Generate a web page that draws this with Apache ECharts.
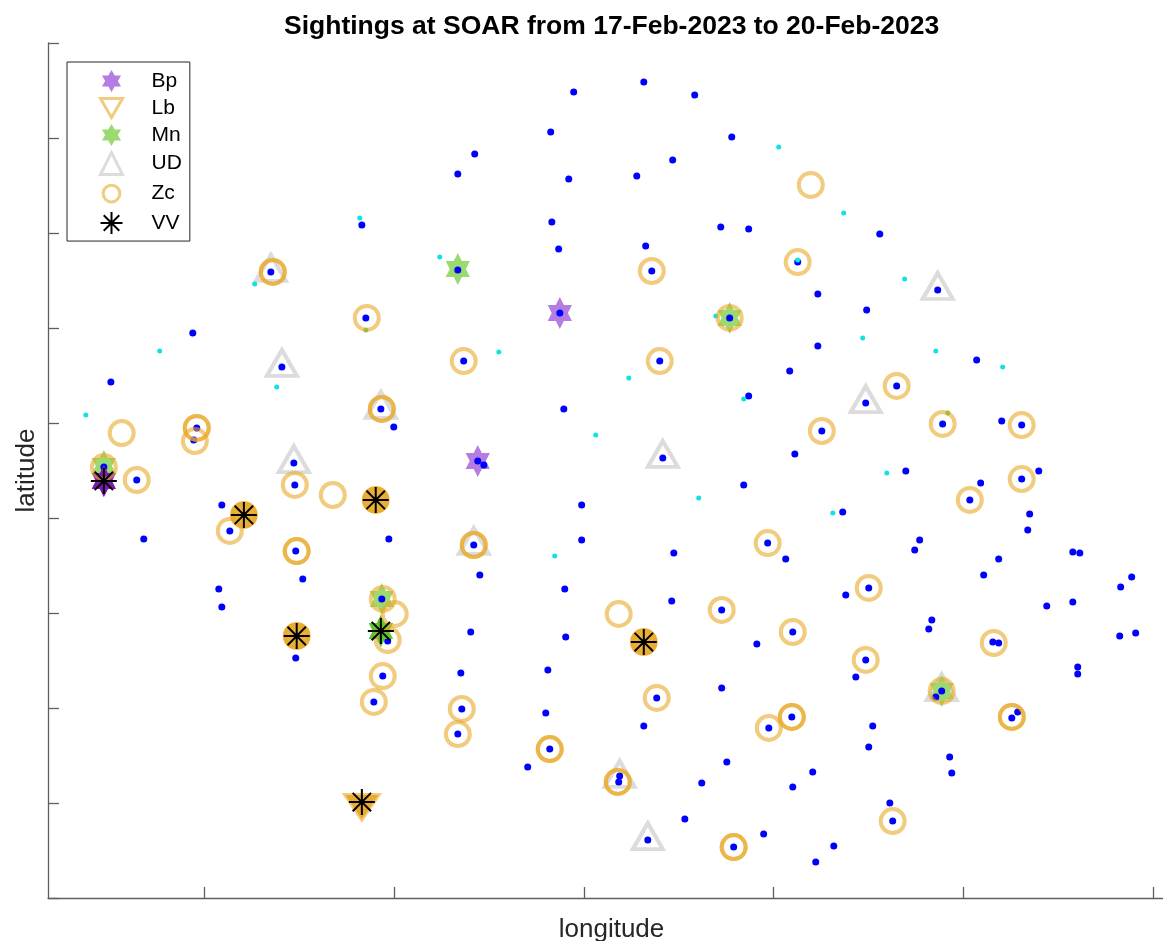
<!DOCTYPE html>
<html>
<head>
<meta charset="utf-8">
<title>Sightings at SOAR</title>
<script src="https://cdn.jsdelivr.net/npm/echarts@6/dist/echarts.min.js"></script>
<style>
html, body { margin: 0; padding: 0; background: #fff; }
#chart { width: 1163px; height: 941px; }
</style>
</head>
<body>
<div id="chart"></div>
<script>
// Positions are [easting km, northing km] on the range grid.

// Hydrophone / effort positions
const gridBlue = [
  [33.16,42.95],[29.47,42.42],[35.84,42.26],[28.26,40.32],[37.79,40.05],[24.26,39.16],[34.68,38.84],[23.37,38.11],[29.21,37.84],[32.79,38.00],
  [18.32,35.42],[28.32,35.58],[37.21,35.32],[38.68,35.21],[45.58,34.95],[28.68,34.16],[33.26,34.32],
  [13.53,32.95],[33.58,33.00],[41.26,33.47],[23.37,33.05],[42.32,31.79],[48.63,32.00],[18.53,30.53],[28.74,30.79],[37.68,30.53],[44.89,30.95],[9.42,29.74],[42.32,29.05],
  [14.11,27.95],[23.68,28.26],[34.00,28.26],[40.84,27.74],[46.47,26.95],[50.68,28.32],[5.11,27.16],[38.68,26.42],[44.84,26.05],[28.95,25.74],[19.32,25.74],[20.00,24.79],[42.53,24.58],[48.89,24.95],[52.00,25.11],[53.05,24.89],[9.63,24.74],[9.47,24.11],
  [4.74,22.68],[6.47,22.00],[14.74,22.89],[14.79,21.74],[24.42,23.00],[24.74,22.79],[34.16,23.16],[46.95,22.47],[53.95,22.47],[53.05,22.05],[38.42,21.74],[50.89,21.84],[50.32,20.95],[10.95,20.68],[11.37,19.32],[29.89,20.68],[43.63,20.32],[53.47,20.21],[53.37,19.37],
  [6.84,18.89],[19.74,18.89],[14.84,18.26],[24.21,18.58],[39.68,18.68],[29.89,18.84],[34.74,18.16],[40.63,17.84],[47.68,18.84],[47.42,18.32],[51.84,17.84],[51.05,17.00],[55.74,18.21],[56.11,18.16],[24.53,17.00],[15.21,16.79],[29.00,16.26],[45.00,16.32],[43.79,15.95],[58.84,16.89],[58.26,16.37],
  [10.79,16.26],[10.95,15.32],[19.37,15.74],[34.63,15.63],[37.26,15.16],[54.37,15.37],[55.74,15.58],[41.00,14.00],[48.32,14.63],[48.16,14.16],[51.53,13.47],[51.84,13.42],[58.21,13.79],[59.05,13.95],[24.05,14.00],[29.05,13.74],[39.11,13.37],[19.68,13.53],
  [14.84,12.63],[23.53,11.84],[28.11,12.00],[37.26,11.05],[44.84,12.53],[44.32,11.63],[56.00,12.16],[56.00,11.79],[19.42,11.68],[18.95,10.32],[33.84,10.53],[48.84,10.89],[48.53,10.58],
  [23.58,9.95],[28.00,9.74],[33.16,9.05],[39.74,8.95],[40.95,9.53],[52.53,9.47],[52.84,9.79],[45.21,9.05],[45.00,7.95],[23.37,8.63],[28.21,7.84],[49.26,7.42],[49.37,6.58],[27.05,6.89],[37.53,7.16],[42.05,6.63],[41.00,5.84],[36.21,6.05],[31.89,6.42],[31.84,6.11],
  [46.11,5.00],[46.26,4.05],[35.32,4.16],[39.47,3.37],[33.37,3.05],[37.89,2.68],[43.16,2.74],[42.21,1.89],[41.11,23.37]
];

const gridCyan = [
  [18.21,35.79],[12.68,32.32],[7.68,28.79],[13.84,26.89],[3.79,25.42],[22.42,33.74],[25.53,28.74],[32.37,27.37],[30.63,24.37],[40.26,39.53],
  [36.95,30.63],[38.42,26.26],[43.68,36.05],[41.26,33.58],[46.89,32.58],[44.68,29.47],[48.53,28.79],[52.05,27.95],[45.95,22.37],[43.11,20.26],
  [36.05,21.05],[28.47,18.00]
];

const gridGreen = [[18.53,29.89],[49.16,25.53]];

// Species detections
const bpPts = [[28.74,30.79],[24.42,23.00],[4.74,21.95]];
const lbPts = [[18.32,5.05]];
const mnPts = [[23.37,33.11],[37.68,30.53],[4.74,22.74],[19.37,15.74],[48.84,10.89],[19.32,14.05]];
const udPts = [[13.53,32.95],[14.11,27.95],[19.32,25.74],[14.74,22.89],[34.16,23.16],[48.63,32.00],[44.84,26.05],[24.21,18.58],[31.89,6.32],[33.37,3.05],[48.84,10.89]];
const zcPts = [
  [13.63,32.95],[13.63,32.95],[33.58,33.00],[41.26,33.47],[41.95,37.53],[18.58,30.53],[37.68,30.53],[23.68,28.26],[34.00,28.26],[46.47,26.95],
  [19.37,25.74],[19.37,25.74],[42.53,24.58],[48.89,24.95],[53.05,24.89],[5.68,24.47],[9.63,24.74],[9.63,24.74],[9.53,24.05],[4.74,22.68],
  [6.47,22.00],[14.79,21.74],[16.79,21.21],[53.05,22.05],[50.32,20.95],[11.37,19.32],[14.89,18.26],[14.89,18.26],[24.21,18.58],[24.21,18.58],
  [39.68,18.68],[45.00,16.32],[19.42,15.74],[20.05,14.95],[31.84,14.95],[37.26,15.16],[41.00,14.00],[51.58,13.42],[19.68,13.58],[44.84,12.53],
  [19.42,11.68],[18.95,10.32],[33.84,10.53],[48.84,10.89],[23.58,9.95],[23.37,8.63],[39.74,8.95],[40.95,9.53],[40.95,9.53],[52.53,9.53],
  [52.53,9.53],[28.21,7.84],[28.21,7.84],[31.79,6.11],[31.79,6.11],[37.89,2.68],[37.89,2.68],[46.26,4.05],
  [12.11,20.16],[19.05,20.95],[14.89,13.79],[33.16,13.47]
];
const vvPts = [[4.74,21.95],[12.11,20.16],[19.05,20.95],[14.89,13.79],[19.32,14.05],[33.16,13.47],[18.32,5.05]];
const vvSpecies = ['Bp','Zc','Zc','Zc','Mn','Zc','Lb'];

const legendNames = ['Bp','Lb','Mn','UD','Zc','VV'];
const xTickValues = [10, 20, 30, 40, 50, 60];
const yTickStep = 5;

const FONT = '"Liberation Sans", Arial, Helvetica, sans-serif';
const HEXAGRAM = 'path://M50,0L64.43,25L93.3,25L78.87,50L93.3,75L64.43,75L50,100L35.57,75L6.7,75L21.13,50L6.7,25L35.57,25Z';
const TRI_DOWN = 'path://M0,0L100,0L50,86.6Z';
const ASTERISK = 'path://M50,0L50,100M0,50L100,50M14.64,14.64L85.36,85.36M85.36,14.64L14.64,85.36';
const RING_ICON = 'path://M-8,-8M108,108M50,6A44,44,0,1,1,49.9,6Z';
const ORANGE_RING = 'rgba(232,168,40,0.6)';
const CLEAR = 'rgba(0,0,0,0)';

function dotSeries(name, data, size, color, z) {
  return {
    type: 'scatter', name, data, z, silent: true,
    symbol: 'circle', symbolSize: size,
    itemStyle: { color, opacity: 1 }
  };
}

// Filled marks drawn under each VV asterisk, in the colour of the co-detected species
const solidMark = {
  Bp: { symbol: HEXAGRAM, symbolSize: [28, 32], symbolOffset: [0, 0], color: '#7A1AAE' },
  Mn: { symbol: HEXAGRAM, symbolSize: [28, 32], symbolOffset: [0, 0], color: '#5EC62C' },
  Zc: { symbol: 'circle', symbolSize: 27, symbolOffset: [0, 0], color: '#EAB13A' },
  Lb: { symbol: TRI_DOWN, symbolSize: [33, 28], symbolOffset: [0, 5], color: '#E9AC30' }
};
const vvUnderlays = Object.keys(solidMark).map(sp => ({
  type: 'scatter', name: sp + ' + VV', silent: true, z: 5,
  data: vvPts.filter((p, i) => vvSpecies[i] === sp),
  symbol: solidMark[sp].symbol, symbolSize: solidMark[sp].symbolSize,
  symbolOffset: solidMark[sp].symbolOffset, symbolKeepAspect: true,
  itemStyle: { color: solidMark[sp].color, opacity: 1 }
}));

const series = [
  {
    type: 'scatter', name: 'UD', data: udPts, z: 2, silent: true,
    symbol: 'triangle', symbolSize: [30, 26], symbolOffset: [0, -4],
    itemStyle: { color: CLEAR, borderColor: '#DCDCDC', borderWidth: 4, opacity: 1 }
  },
  {
    type: 'scatter', name: 'Bp', data: bpPts, z: 2, silent: true,
    symbol: HEXAGRAM, symbolSize: [28, 32], symbolKeepAspect: true,
    itemStyle: { color: '#B47DE2', opacity: 1 }
  },
  {
    type: 'scatter', name: 'Mn', data: mnPts, z: 2, silent: true,
    symbol: HEXAGRAM, symbolSize: [28, 32], symbolKeepAspect: true,
    itemStyle: { color: '#9BDA70', opacity: 1 }
  },
  dotSeries('stations', gridBlue, 7, '#0000FF', 3),
  dotSeries('stations (alt)', gridCyan, 5, '#12E2E2', 4),
  dotSeries('stations (green)', gridGreen, 5, '#62CC45', 4),
  ...vvUnderlays,
  {
    type: 'scatter', name: 'Zc', data: zcPts, z: 6, silent: true,
    symbol: 'circle', symbolSize: 24,
    itemStyle: { color: CLEAR, borderColor: ORANGE_RING, borderWidth: 4, opacity: 1 }
  },
  {
    type: 'scatter', name: 'Lb', data: lbPts, z: 6, silent: true,
    symbol: TRI_DOWN, symbolSize: [33, 28], symbolOffset: [0, 5], symbolKeepAspect: true,
    itemStyle: { color: CLEAR, borderColor: ORANGE_RING, borderWidth: 4, opacity: 1 }
  },
  {
    type: 'scatter', name: 'VV', data: vvPts, z: 7, silent: true,
    symbol: ASTERISK, symbolSize: 26,
    itemStyle: { color: CLEAR, borderColor: '#000', borderWidth: 2, opacity: 1 }
  }
];

const legendIcons = { Bp: HEXAGRAM, Lb: TRI_DOWN, Mn: HEXAGRAM, UD: 'triangle', Zc: RING_ICON, VV: ASTERISK };
const legendBorder = { Lb: 3, UD: 3, Zc: 3, VV: 2 };

const axisGray = '#5f5f5f';

const option = {
  animation: false,
  backgroundColor: '#fff',
  title: {
    text: 'Sightings at SOAR from 17-Feb-2023 to 20-Feb-2023',
    left: 284, top: 13, padding: 0,
    textStyle: { fontFamily: FONT, fontSize: 26.5, fontWeight: 'bold', color: '#000' }
  },
  legend: {
    orient: 'vertical', left: 67, top: 62,
    padding: [8, 8, 6, 32],
    itemWidth: 22, itemHeight: 22, itemGap: 5,
    borderColor: '#262626', borderWidth: 1, backgroundColor: '#fff',
    selectedMode: false,
    textStyle: { fontFamily: FONT, fontSize: 21, color: '#000', lineHeight: 22, padding: [0, 0, 0, 24] },
    data: legendNames.map(n => {
      const item = { name: n, icon: legendIcons[n] };
      if (legendBorder[n]) item.itemStyle = { borderWidth: legendBorder[n] };
      return item;
    })
  },
  grid: { left: 48, right: -12, top: 43, bottom: 43, outerBoundsMode: 'none', containLabel: false },
  xAxis: {
    type: 'value', min: 1.8, max: 61.12,
    name: 'longitude', nameLocation: 'middle', nameGap: 19,
    nameTextStyle: { fontFamily: FONT, fontSize: 26, color: '#262626' },
    axisLine: { show: true, onZero: false, lineStyle: { color: axisGray, width: 1.3 } },
    axisTick: { show: true, inside: true, length: 11, customValues: xTickValues, lineStyle: { color: axisGray, width: 1.3 } },
    axisLabel: { show: false },
    splitLine: { show: false }
  },
  yAxis: {
    type: 'value', min: 0, max: 45, interval: yTickStep,
    name: 'latitude', nameLocation: 'middle', nameGap: 8, nameRotate: 90,
    nameTextStyle: { fontFamily: FONT, fontSize: 26, color: '#262626' },
    axisLine: { show: true, onZero: false, lineStyle: { color: axisGray, width: 1.3 } },
    axisTick: { show: true, inside: true, length: 11, lineStyle: { color: axisGray, width: 1.3 } },
    axisLabel: { show: false },
    splitLine: { show: false }
  },
  series
};

const chart = echarts.init(document.getElementById('chart'), null, { renderer: 'canvas' });
chart.setOption(option);
</script>
</body>
</html>
